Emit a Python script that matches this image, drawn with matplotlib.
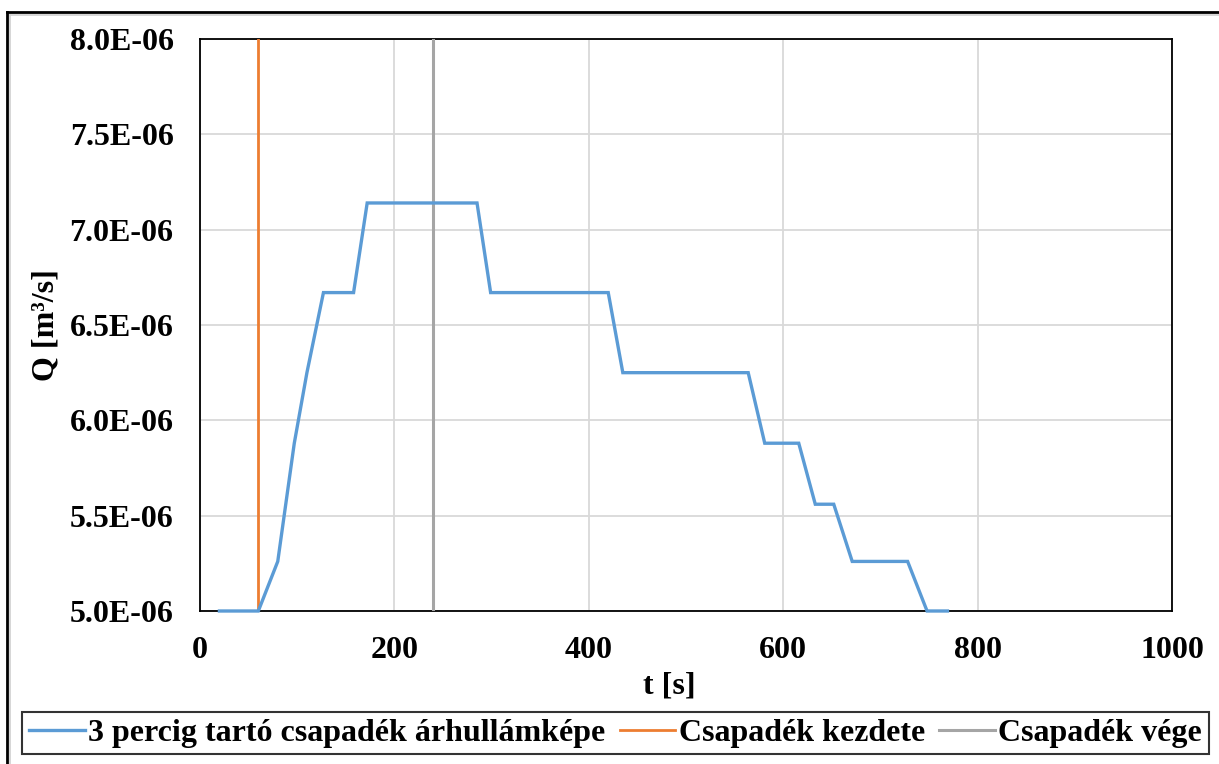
import numpy as np
import matplotlib
matplotlib.use("Agg")
import matplotlib.pyplot as plt
from matplotlib.lines import Line2D
from matplotlib.ticker import FuncFormatter, MultipleLocator

# hydrograph of a 3 minute rain event
t = [20, 60, 80, 97, 110, 127, 158, 172, 285, 299, 420, 435,
     564, 581, 616, 633, 652, 671, 728, 748, 769]
Q = [5.00, 5.00, 5.26, 5.88, 6.25, 6.67, 6.67, 7.14, 7.14, 6.67, 6.67, 6.25,
     6.25, 5.88, 5.88, 5.56, 5.56, 5.26, 5.26, 5.00, 5.00]
Q = [q * 1e-6 for q in Q]

rain_start = 60
rain_end = 240

labels = [
    "3 percig tartó csapadék árhullámképe",
    "Csapadék kezdete",
    "Csapadék vége",
]

plt.rcParams["font.family"] = ["Liberation Serif", "DejaVu Serif"]
plt.rcParams["font.weight"] = "bold"
plt.rcParams["font.size"] = 23

W, H = 1219, 764
fig = plt.figure(figsize=(W / 100, H / 100), dpi=100)
ax = fig.add_axes([200 / W, 1 - 611 / H, 972 / W, 572 / H])

ymin, ymax = 5.0e-6, 8.0e-6

ax.plot(t, Q, color="#5b9bd5", lw=2.4, label=labels[0], zorder=4,
        solid_joinstyle="miter", clip_on=False)
ax.plot([rain_start, rain_start], [ymin, ymax], color="#ed7d31", lw=2.0,
        label=labels[1], zorder=3)
ax.plot([rain_end, rain_end], [ymin, ymax], color="#a5a5a5", lw=2.2,
        label=labels[2], zorder=3)

ax.set_xlim(0, 1000)
ax.set_ylim(ymin, ymax)
ax.xaxis.set_major_locator(MultipleLocator(200))
ax.yaxis.set_major_locator(MultipleLocator(0.5e-6))
ax.yaxis.set_major_formatter(FuncFormatter(lambda v, p: f"{v:.1E}"))
ax.grid(True, color="#d9d9d9", lw=1.3)
ax.set_axisbelow(True)
ax.tick_params(length=0, labelsize=23)
ax.tick_params(axis="y", pad=19)
ax.tick_params(axis="x", pad=18)
for s in ax.spines.values():
    s.set_color("black")
    s.set_linewidth(1.3)

ax.set_xlabel("t [s]", fontsize=23, fontweight="bold")
ax.set_ylabel("Q [m³/s]", fontsize=23, fontweight="bold")
ax.xaxis.set_label_coords((669 - 200) / 972, -(671 - 611) / 572)
ax.yaxis.set_label_coords(-(200 - 60) / 972, 0.5)

leg = fig.legend(loc="center", bbox_to_anchor=(615.5 / W, 1 - 733 / H),
                 ncol=3, frameon=True, fancybox=False, handlelength=1.75,
                 handletextpad=0.1, columnspacing=0.45, borderpad=0.2,
                 borderaxespad=0, fontsize=23)
leg.get_frame().set_edgecolor("black")
leg.get_frame().set_linewidth(1.5)

# outer frame, top and left edges
fig.add_artist(Line2D([7 / W, 1.0], [1 - 12 / H, 1 - 12 / H],
                      transform=fig.transFigure, color="black", lw=2.0))
fig.add_artist(Line2D([7 / W, 7 / W], [0.0, 1 - 12 / H],
                      transform=fig.transFigure, color="black", lw=2.0))
fig.add_artist(Line2D([9.5 / W, 1.0], [1 - 14.5 / H, 1 - 14.5 / H],
                      transform=fig.transFigure, color="#d0d0d0", lw=1.2))
fig.add_artist(Line2D([9.5 / W, 9.5 / W], [0.0, 1 - 14.5 / H],
                      transform=fig.transFigure, color="#d0d0d0", lw=1.2))

fig.savefig("out.png", dpi=100)
